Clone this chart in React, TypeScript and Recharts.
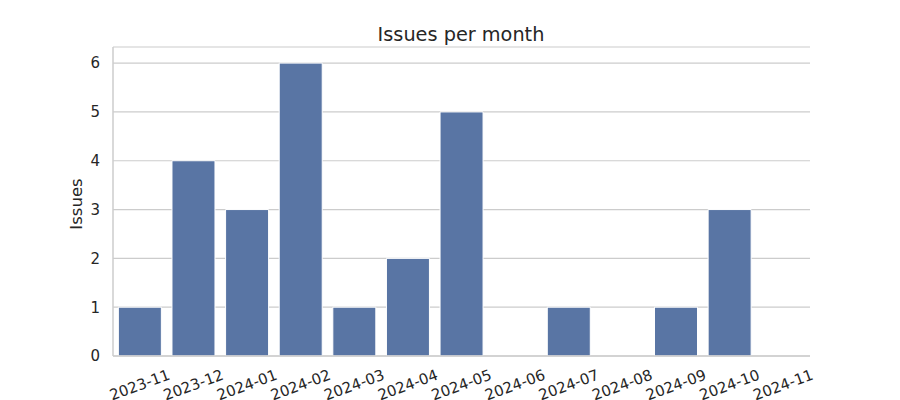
import React from "react";
import { BarChart, Bar, XAxis, YAxis, CartesianGrid } from "recharts";

const months = ["2023-11","2023-12","2024-01","2024-02","2024-03","2024-04","2024-05","2024-06","2024-07","2024-08","2024-09","2024-10","2024-11"];
const issues = [1,4,3,6,1,2,5,0,1,0,1,3,0];
const yTicks = [0,1,2,3,4,5,6];

const data = months.map((m, i) => ({ month: m, issues: issues[i] }));

const FONT = "DejaVu Sans, sans-serif";
const TEXT = "#262626";
const GRID = "#cccccc";

const XTick = (props: any) => {
  const { x, y, payload } = props;
  return (
    <g transform={`translate(${x},${y + 21})`}>
      <text x={0} y={0} textAnchor="middle" dominantBaseline="central" transform="rotate(-20)" fill={TEXT} fontSize={15} fontFamily={FONT}>
        {payload.value}
      </text>
    </g>
  );
};

export default function App() {
  return (
    <div style={{ position: "absolute", left: 0, top: 0, width: 900, height: 400, background: "#fff" }}>
      <svg width={900} height={400} style={{ position: "absolute", left: 0, top: 0, pointerEvents: "none" }}>
        <text x={461} y={41} textAnchor="middle" fontSize={19.3} fontFamily={FONT} fill={TEXT}>Issues per month</text>
        <text x={0} y={0} transform="translate(82,204) rotate(-90)" textAnchor="middle" fontSize={16.5} fontFamily={FONT} fill={TEXT}>Issues</text>
      </svg>
      <BarChart width={900} height={400} data={data} margin={{ top: 47, right: 90, bottom: 0, left: 53 }} barCategoryGap="10%">
        <CartesianGrid horizontal={true} vertical={false} stroke={GRID} strokeWidth={1.2} />
        <XAxis dataKey="month" height={44} axisLine={{ stroke: GRID, strokeWidth: 1.5 }} tickLine={false} tick={<XTick />} interval={0} />
        <YAxis width={60} domain={[0, 6.33]} ticks={yTicks} allowDataOverflow axisLine={{ stroke: GRID, strokeWidth: 1.5 }} tickLine={false} tickMargin={7} tick={{ fill: TEXT, fontSize: 15, fontFamily: FONT }} />
        <Bar dataKey="issues" fill="#5975a4" stroke="#ffffff" strokeWidth={1} isAnimationActive={false} />
      </BarChart>
    </div>
  );
}
